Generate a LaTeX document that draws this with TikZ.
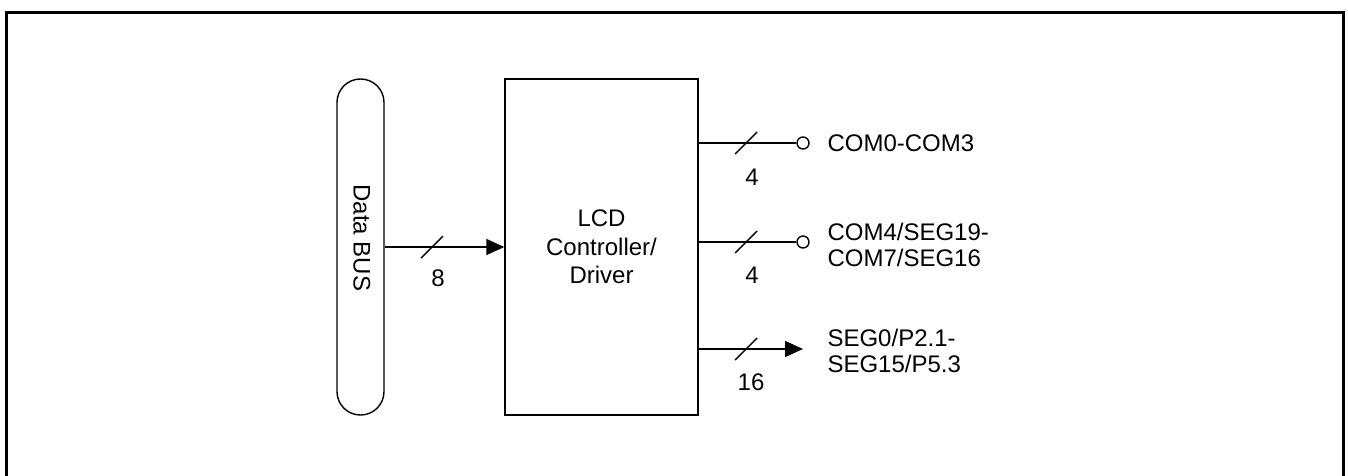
\documentclass[tikz,border=0pt]{standalone}
\usepackage{fontspec}
\setmainfont{Liberation Sans}
\usetikzlibrary{arrows.meta,calc}
\begin{document}
\begin{tikzpicture}[x=1pt,y=-1pt,
  every node/.style={font=\fontsize{24}{28.5}\selectfont},
  wire/.style={line width=1.4pt},
  blk/.style={draw,line width=1.4pt,inner sep=0pt},
  tip/.style={-{Triangle[length=18pt,width=16pt]}},
  term/.style={circle,draw,line width=1.4pt,minimum size=12pt,inner sep=0pt},
  lbl/.style={anchor=west,align=left,font=\fontsize{24}{26.5}\selectfont},
  num/.style={inner sep=0pt}]
\useasboundingbox (0,0) rectangle (1348,475);
\draw[line width=3pt] (6,480) -- (6,12) -- (1343,12) -- (1343,480);
% blocks
\node[blk, rounded corners=23.4pt, minimum width=47pt, minimum height=336pt] (bus) at (360.5,247) {};
\node[rotate=-90] (bustxt) at (362,238) {Data BUS};
\node[blk, minimum width=193pt, minimum height=336pt, align=center] (lcd) at (601.5,247) {LCD\\Controller/\\Driver};
% input bus
\draw[wire,tip] (bus.east) -- (lcd.west);
\coordinate (s0) at (432,247);
\draw[wire] ($(s0)+(-11,11)$) -- ($(s0)+(11,-11)$);
\node[num] (n0) at (438,278) {8};
% outputs
\node[term] (t1) at (803,143) {};
\node[term] (t2) at (803,242) {};
\coordinate (a3) at (803,349);
\draw[wire] (lcd.east |- t1) -- (t1.west);
\draw[wire] (lcd.east |- t2) -- (t2.west);
\draw[wire,tip] (lcd.east |- a3) -- (a3);
\foreach \y/\n in {143/s1,242/s2,349/s3}{
  \coordinate (\n) at (746,\y);
  \draw[wire] ($(\n)+(-11,11)$) -- ($(\n)+(11,-11)$);
}
\node[num] (n1) at (752,177) {4};
\node[num] (n2) at (752,275) {4};
\node[num] (n3) at (751,382) {16};
\node[lbl] (l1) at (824,143) {COM0-COM3};
\node[lbl] (l2) at (824,245) {COM4/SEG19-\\COM7/SEG16};
\node[lbl] (l3) at (824,351) {SEG0/P2.1-\\SEG15/P5.3};
\end{tikzpicture}
\end{document}
